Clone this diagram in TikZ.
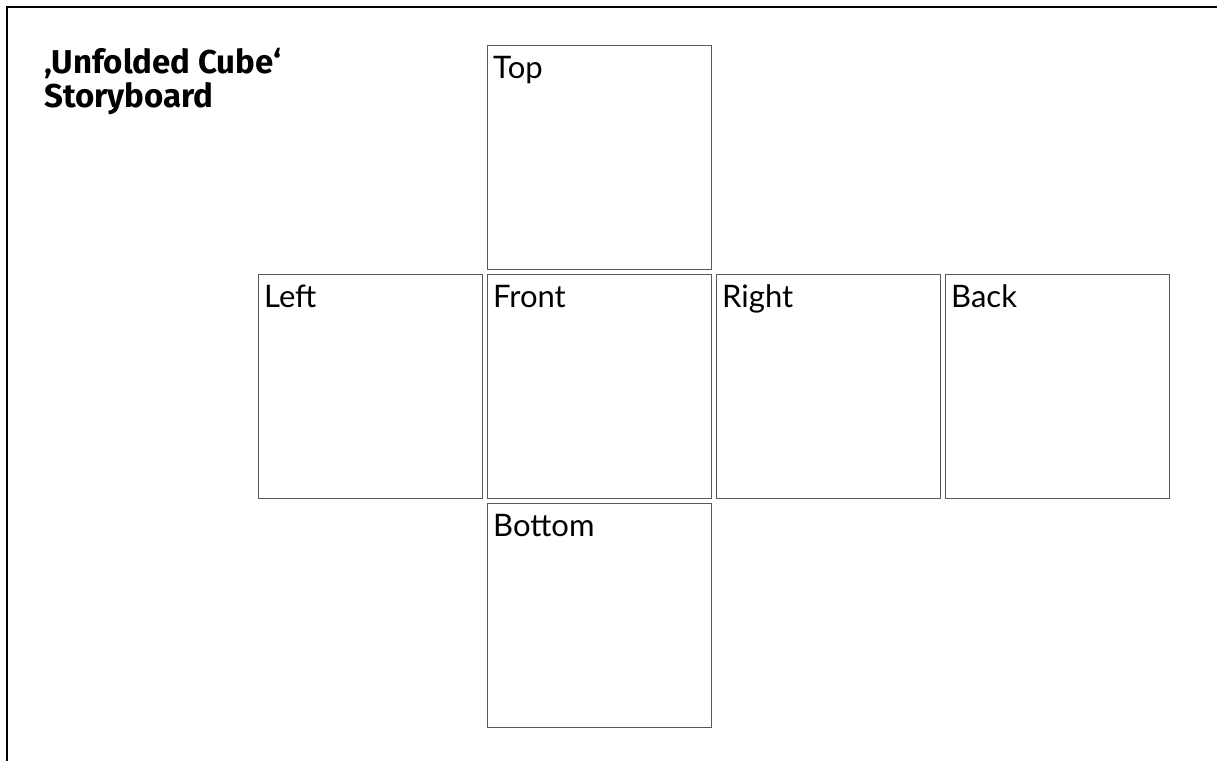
\documentclass[tikz,border=0pt]{standalone}
\usepackage{fontspec}
\setmainfont{Lato}
\newfontfamily\titlefont{Fira Sans}
\begin{document}
\begin{tikzpicture}[x=1pt,y=-1pt,
  face/.style={draw=black!65, line width=1pt, minimum width=224pt, minimum height=224pt, inner sep=0pt, anchor=north west},
  facelabel/.style={anchor=base west, inner sep=0pt, font=\fontsize{31}{34}\selectfont},
  titletext/.style={anchor=base west, inner sep=0pt, font=\titlefont\bfseries\fontsize{33}{34}\selectfont},
  frameline/.style={line width=2pt, black}]
\useasboundingbox (0,0) rectangle (1217,761);
\coordinate (fbl) at (7,761);
\coordinate (ftl) at (7,7);
\coordinate (ftr) at (1217,7);
\draw[frameline] (fbl) -- (ftl) -- (ftr);
\node[titletext] (title1) at (44,73) {‚Unfolded Cube‘};
\node[titletext] (title2) at (44,107) {Storyboard};
\node[face] (top) at (487,45) {};
\node[face] (left) at (258,274) {};
\node[face] (front) at (487,274) {};
\node[face] (right) at (716,274) {};
\node[face] (back) at (945,274) {};
\node[face] (bottom) at (487,503) {};
\node[facelabel] (ltop) at ([shift={(6,33)}]top.north west) {Top};
\node[facelabel] (lleft) at ([shift={(6,33)}]left.north west) {Left};
\node[facelabel] (lfront) at ([shift={(6,33)}]front.north west) {Front};
\node[facelabel] (lright) at ([shift={(6,33)}]right.north west) {Right};
\node[facelabel] (lback) at ([shift={(6,33)}]back.north west) {Back};
\node[facelabel] (lbottom) at ([shift={(6,33)}]bottom.north west) {Bottom};
\end{tikzpicture}
\end{document}
